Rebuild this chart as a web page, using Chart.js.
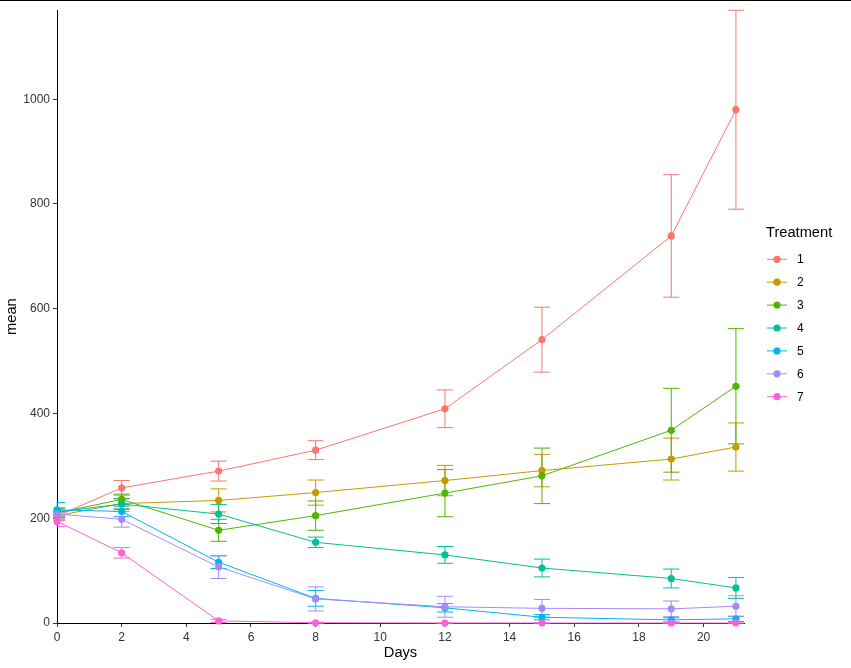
<!DOCTYPE html>
<html>
<head>
<meta charset="utf-8">
<script src="https://cdn.jsdelivr.net/npm/chart.js@4.4.1/dist/chart.umd.min.js"></script>
<style>
html,body{margin:0;padding:0;background:#fff;}
#wrap{width:851px;height:668px;position:relative;}
canvas{display:block;}
</style>
</head>
<body>
<div id="wrap"><canvas id="c" width="851" height="668"></canvas></div>
<script>
// ---- data ----
const days = [0, 2, 5, 8, 12, 15, 19, 21];
const treatments = ["1", "2", "3", "4", "5", "6", "7"];
const colors = ["#F8766D", "#C49A00", "#53B400", "#00C094", "#00B6EB", "#A58AFF", "#FB61D7"];

const mean1 = [204, 258, 290, 330, 409, 541, 739, 980];
const mean2 = [205, 228, 234, 249, 272, 291, 313, 336];
const mean3 = [210, 236, 177, 205, 248, 281, 368, 452];
const mean4 = [212, 227, 208, 154, 130, 105, 85, 67];
const mean5 = [216, 213, 116, 47, 29, 11, 6, 8];
const mean6 = [208, 198, 107, 46, 31, 28, 27, 32];
const mean7 = [194, 134, 4, 0.5, 0, 0, 0, 0];

const err1 = [8, 14, 19, 18, 36, 62, 117, 190];
const err2 = [8, 10, 22, 24, 29, 31, 40, 46];
const err3 = [8, 10, 21, 28, 45, 53, 80, 110];
const err4 = [8, 10, 18, 10, 16, 17, 18, 20];
const err5 = [14, 10, 12, 15, 8, 5, 4, 5];
const err6 = [8, 15, 22, 23, 20, 17, 15, 20];
const err7 = [10, 10, 3, 1, 0, 0, 0, 0];

const xTicks = [0, 2, 4, 6, 8, 10, 12, 14, 16, 18, 20];
const yTicks = [0, 200, 400, 600, 800, 1000];

const means = [mean1, mean2, mean3, mean4, mean5, mean6, mean7];
const errs = [err1, err2, err3, err4, err5, err6, err7];

const FONT = '"Liberation Sans", Arial, sans-serif';
const CAP = 0.25; // half width of error bar caps, in days

const datasets = treatments.map((t, i) => ({
  label: t,
  data: days.map((d, j) => ({x: d, y: means[i][j]})),
  borderColor: colors[i],
  backgroundColor: colors[i],
  borderWidth: 1,
  pointRadius: 3.6,
  pointBorderWidth: 0,
  pointHoverRadius: 3.6,
  showLine: true,
  clip: false,
  order: treatments.length - i
}));

const errorBars = {
  id: 'errorBars',
  beforeDatasetsDraw(chart) {
    const {ctx, chartArea, scales: {x, y}} = chart;
    ctx.save();
    ctx.beginPath();
    ctx.rect(chartArea.left - 0.5, 0, chart.width, chart.height);
    ctx.clip();
    ctx.lineWidth = 1;
    chart.data.datasets.forEach((ds, i) => {
      ctx.strokeStyle = colors[i];
      ds.data.forEach((p, j) => {
        const e = errs[i][j];
        const px = x.getPixelForValue(p.x);
        const x0 = x.getPixelForValue(p.x - CAP);
        const x1 = x.getPixelForValue(p.x + CAP);
        const yt = y.getPixelForValue(p.y + e);
        const yb = y.getPixelForValue(p.y - e);
        ctx.beginPath();
        ctx.moveTo(px, yt); ctx.lineTo(px, yb);
        ctx.moveTo(x0, yt); ctx.lineTo(x1, yt);
        ctx.moveTo(x0, yb); ctx.lineTo(x1, yb);
        ctx.stroke();
      });
    });
    ctx.restore();
  }
};

const sideLegend = {
  id: 'sideLegend',
  afterDraw(chart) {
    const ctx = chart.ctx;
    ctx.save();
    // top frame line
    ctx.fillStyle = '#000';
    ctx.fillRect(0, 0, chart.width, 1);
    ctx.textBaseline = 'middle';
    ctx.textAlign = 'left';
    ctx.font = '14.67px ' + FONT;
    ctx.fillStyle = '#000';
    ctx.fillText('Treatment', 766, 233);
    ctx.font = '12px ' + FONT;
    chart.data.datasets.forEach((ds, i) => {
      const yy = 259.3 + i * 22.9;
      ctx.strokeStyle = colors[i];
      ctx.lineWidth = 1;
      ctx.beginPath();
      ctx.moveTo(767, yy); ctx.lineTo(787, yy);
      ctx.stroke();
      ctx.fillStyle = colors[i];
      ctx.beginPath();
      ctx.arc(777, yy, 3.6, 0, Math.PI * 2);
      ctx.fill();
      ctx.fillStyle = '#000';
      ctx.fillText(ds.label, 797, yy + 0.5);
    });
    ctx.restore();
  }
};

new Chart(document.getElementById('c'), {
  type: 'scatter',
  data: {datasets},
  plugins: [errorBars, sideLegend],
  options: {
    responsive: false,
    devicePixelRatio: 1,
    animation: false,
    events: [],
    layout: {padding: {top: 7, right: 107, bottom: 0, left: 0}},
    plugins: {legend: {display: false}, tooltip: {enabled: false}},
    scales: {
      x: {
        type: 'linear',
        min: 0,
        max: 21.25,
        afterFit: s => { s.height = 45; },
        afterBuildTicks: s => { s.ticks = xTicks.map(v => ({value: v})); },
        ticks: {
          stepSize: 2, includeBounds: false, autoSkip: false, maxRotation: 0,
          color: '#333333', font: {family: FONT, size: 12}, padding: 3,
          callback: v => String(v)
        },
        grid: {display: true, drawOnChartArea: false, drawTicks: true, tickLength: 4, color: '#333333', lineWidth: 1},
        border: {display: true, color: '#000', width: 1},
        title: {display: true, text: 'Days', color: '#000', font: {family: FONT, size: 14.67, lineHeight: 1.2}, padding: {top: 0, bottom: 6}}
      },
      y: {
        type: 'linear',
        min: 0,
        max: 1170,
        afterFit: s => { s.width = 57; },
        afterBuildTicks: s => { s.ticks = yTicks.map(v => ({value: v})); },
        ticks: {
          stepSize: 200, includeBounds: false, autoSkip: false,
          color: '#333333', font: {family: FONT, size: 12}, padding: 3,
          callback: v => String(v)
        },
        grid: {display: true, drawOnChartArea: false, drawTicks: true, tickLength: 4, color: '#333333', lineWidth: 1},
        border: {display: true, color: '#000', width: 1},
        title: {display: true, text: 'mean', color: '#000', font: {family: FONT, size: 14.67, lineHeight: 1.2}, padding: {top: 3, bottom: 0}}
      }
    }
  }
});
</script>
</body>
</html>
